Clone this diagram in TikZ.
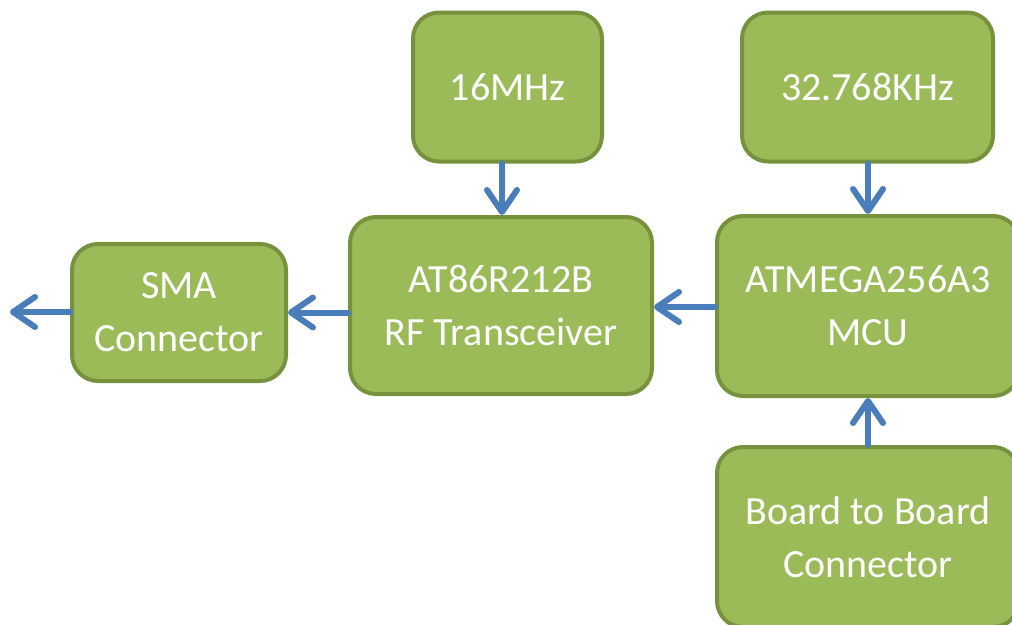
\documentclass[tikz,border=0pt]{standalone}
\usepackage{fontspec}
\setmainfont{Carlito}
\usetikzlibrary{arrows.meta}
\definecolor{boxfill}{HTML}{9BBB59}
\definecolor{boxline}{HTML}{76923C}
\definecolor{arrblue}{HTML}{4A7EBB}
\begin{document}
\begin{tikzpicture}[x=1pt,y=-1pt,
  blk/.style={rectangle, rounded corners=26pt, draw=boxline, line width=4pt, fill=boxfill,
    text=white, align=center, font=\fontsize{40}{53}\selectfont, inner sep=0pt},
  arr/.style={draw=arrblue, line width=6pt, line cap=round,
    -{Straight Barb[length=22pt,width=30pt,line cap=round,line join=round]}}]
\useasboundingbox (0,0) rectangle (1012,624);
\node[blk, minimum width=189pt, minimum height=149pt] (f16) at (507.5,87) {16MHz};
\node[blk, minimum width=251pt, minimum height=149pt] (f32) at (867.5,87) {32.768KHz};
\node[blk, minimum width=214pt, minimum height=137pt] (sma) at (179,312.5) {SMA\\Connector};
\node[blk, minimum width=302pt, minimum height=177pt] (rf) at (501,305.5) {AT86R212B\\RF Transceiver};
\node[blk, minimum width=302pt, minimum height=180pt] (mcu) at (868,306) {ATMEGA256A3\\MCU};
\node[blk, minimum width=302pt, minimum height=180pt] (b2b) at (868,537) {Board to Board\\Connector};
\coordinate (out) at (10,312);
\draw[arr] (f16.south -| rf.north) ++(1,0) -- ([xshift=1pt]rf.north);
\draw[arr] (f32.south -| mcu.north) -- (mcu.north);
\draw[arr] (b2b.north) -- (mcu.south);
\draw[arr] ([yshift=-1pt]mcu.west) -- ([yshift=-1pt]mcu.west -| rf.east);
\draw[arr] (rf.west |- sma.east) -- (sma.east);
\draw[arr] (sma.west |- out) -- (out);
\end{tikzpicture}
\end{document}
